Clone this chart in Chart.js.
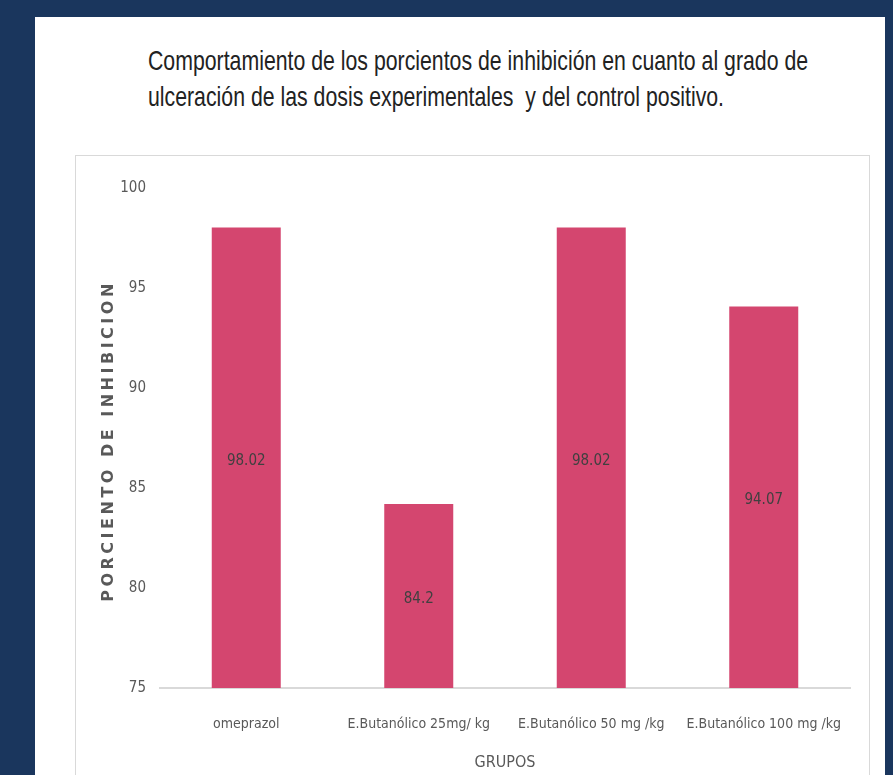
<!DOCTYPE html>
<html>
<head>
<meta charset="utf-8">
<script src="https://cdn.jsdelivr.net/npm/chart.js@4.4.0/dist/chart.umd.min.js"></script>
<style>
  html, body { margin: 0; padding: 0; }
  body { width: 893px; height: 775px; background: #1a365d; overflow: hidden; position: relative; }
  .panel { position: absolute; left: 35px; top: 17px; width: 850px; height: 800px; background: #fff; }
  .titulo {
    position: absolute; left: 148px; top: 43px; white-space: nowrap;
    font-family: 'Liberation Sans', Arial, sans-serif; font-size: 28px; line-height: 36px;
    color: #222; transform: scaleX(0.76); transform-origin: left top;
  }
  .caja { position: absolute; left: 75px; top: 155px; width: 793px; height: 660px; border: 1px solid #d9d9d9; background: #fff; }
  .caja canvas { display: block; }
</style>
</head>
<body>
<div class="panel"></div>
<div class="titulo">Comportamiento de los porcientos de inhibición en cuanto al grado de<br>ulceración de las dosis experimentales&nbsp; y del control positivo.</div>
<div class="caja"><canvas id="grafico" width="793" height="640" style="width:793px;height:640px"></canvas></div>
<script>
// datos
const grupos = ['omeprazol', 'E.Butanólico 25mg/ kg', 'E.Butanólico 50 mg /kg', 'E.Butanólico 100 mg /kg'];
const inhibicion = [98.02, 84.2, 98.02, 94.07];
const marcasY = [75, 80, 85, 90, 95, 100];

const fuenteNarrow = "'DejaVu Sans Condensed', 'DejaVu Sans', sans-serif";

// etiquetas dentro de las barras + titulo del eje y (con espaciado)
const textosExtra = {
    id: 'textosExtra',
    afterDraw(chart) {
        const ctx = chart.ctx;
        const area = chart.chartArea;
        const sx = chart.scales.x;
        const sy = chart.scales.y;
        const base = sy.getPixelForValue(sy.min);

        ctx.save();
        ctx.font = '15px ' + fuenteNarrow;
        ctx.fillStyle = '#404040';
        ctx.textAlign = 'center';
        ctx.textBaseline = 'middle';
        inhibicion.forEach((v, i) => {
            const x = sx.getPixelForValue(i);
            const y = (sy.getPixelForValue(v) + base) / 2 + 3;
            ctx.fillText(String(v), x, y);
        });
        ctx.restore();

        ctx.save();
        ctx.translate(33, (area.top + area.bottom) / 2 + 3);
        ctx.rotate(-Math.PI / 2);
        ctx.font = "bold 16px 'DejaVu Sans', sans-serif";
        ctx.letterSpacing = '3.5px';
        ctx.fillStyle = '#595959';
        ctx.textAlign = 'center';
        ctx.textBaseline = 'middle';
        ctx.fillText('PORCIENTO DE INHIBICION', 0, 0);
        ctx.restore();
    }
};

const ctx = document.getElementById('grafico');
const chartGraph = new Chart(ctx, {
    type: 'bar',
    data: {
        labels: grupos,
        datasets: [{
            label: 'inhibición',
            data: inhibicion,
            backgroundColor: '#d4466f',
            borderWidth: 0,
            barPercentage: 0.4,
            categoryPercentage: 1
        }]
    },
    options: {
        responsive: false,
        animation: false,
        layout: { padding: { left: 0, right: 19, top: 32, bottom: 0 } },
        plugins: {
            legend: { display: false },
            tooltip: { enabled: false }
        },
        scales: {
            x: {
                grid: { display: false, drawTicks: false },
                border: { display: true, color: '#d9d9d9', width: 2 },
                ticks: {
                    color: '#595959',
                    font: { family: fuenteNarrow, size: 14 },
                    padding: 28,
                    maxRotation: 0,
                    autoSkip: false
                },
                title: {
                    display: true,
                    text: 'GRUPOS',
                    color: '#595959',
                    font: { family: fuenteNarrow, size: 16 },
                    padding: { top: 0, bottom: 24 }
                },
                afterFit(scale) {
                    scale.height = 108;
                    scale.paddingLeft = 0;
                    scale.paddingRight = 0;
                }
            },
            y: {
                min: 75,
                max: 100,
                grid: { display: false, drawTicks: false },
                border: { display: false },
                afterBuildTicks(scale) {
                    scale.ticks = marcasY.map(v => ({ value: v }));
                },
                ticks: {
                    color: '#595959',
                    font: { family: fuenteNarrow, size: 15 },
                    padding: 14
                },
                afterFit(scale) { scale.width = 84; }
            }
        }
    },
    plugins: [textosExtra]
});
</script>
</body>
</html>
